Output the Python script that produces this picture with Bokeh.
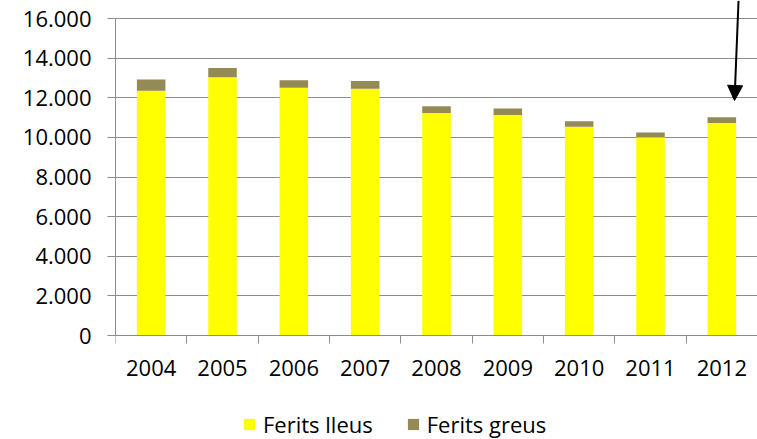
from bokeh.plotting import figure
from bokeh.models import ColumnDataSource, FixedTicker, Range1d, Arrow, NormalHead
from bokeh.embed import file_html
from bokeh.resources import INLINE

# ---- data ----
years = ["2004", "2005", "2006", "2007", "2008", "2009", "2010", "2011", "2012"]
ferits_lleus = [12350, 13030, 12500, 12450, 11230, 11130, 10540, 10010, 10720]
ferits_greus = [575, 470, 390, 390, 340, 325, 270, 240, 290]
series_names = ["Ferits lleus", "Ferits greus"]
y_ticks = [0, 2000, 4000, 6000, 8000, 10000, 12000, 14000, 16000]
y_tick_labels = ["0", "2.000", "4.000", "6.000", "8.000", "10.000", "12.000", "14.000", "16.000"]

# arrow annotation (data coordinates)
arrow_x_start, arrow_y_start = 8.234, 16900
arrow_x_end, arrow_y_end = 8.178, 11860

YELLOW = "#FFFF00"
OLIVE = "#948A54"
GREY = "#8C8C8C"
FONT = "Open Sans"

idx = list(range(len(years)))
src = ColumnDataSource(dict(x=idx, lleus=ferits_lleus, greus=ferits_greus))

# the frame spans the whole canvas to the right of the y axis; the x axis is
# pinned at y = 0 and the legend sits inside the frame, below the axis
p = figure(width=757, height=439, output_backend="svg", toolbar_location=None,
           x_range=Range1d(-0.5, 8.5), y_range=Range1d(-5249, 16909),
           min_border_left=115, min_border_right=0, min_border_top=0, min_border_bottom=0)
p.outline_line_color = None
p.background_fill_color = "white"
p.border_fill_color = "white"

p.vbar_stack(["lleus", "greus"], x="x", width=0.4, color=[YELLOW, OLIVE],
             line_color=None, source=src, legend_label=series_names)

# x axis: labels at centers, ticks at category boundaries
xa = p.xaxis[0]
xa.fixed_location = 0
xa.ticker = FixedTicker(ticks=idx, minor_ticks=[i - 0.5 for i in range(len(years) + 1)])
xa.major_label_overrides = {i: y for i, y in zip(idx, years)}
xa.major_tick_out = 0
xa.major_tick_in = 0
xa.minor_tick_out = 8
xa.minor_tick_in = 0
xa.minor_tick_line_color = GREY
xa.axis_line_color = GREY
xa.axis_line_width = 1
xa.major_label_standoff = 16
xa.major_label_text_font = FONT
xa.major_label_text_font_size = "22px"
xa.major_label_text_color = "black"

ya = p.yaxis[0]
ya.bounds = (0, 16000)
ya.ticker = FixedTicker(ticks=y_ticks)
ya.major_label_overrides = {t: l for t, l in zip(y_ticks, y_tick_labels)}
ya.major_tick_out = 8
ya.major_tick_in = 0
ya.minor_tick_line_color = None
ya.major_tick_line_color = GREY
ya.axis_line_color = GREY
ya.major_label_standoff = 16
ya.major_label_text_font = FONT
ya.major_label_text_font_size = "22px"
ya.major_label_text_color = "black"

p.xgrid.visible = False
p.ygrid.ticker = FixedTicker(ticks=y_ticks)
p.ygrid.grid_line_color = GREY
p.ygrid.grid_line_width = 1

lg = p.legend[0]
lg.orientation = "horizontal"
lg.location = (127, 0)
lg.border_line_color = None
lg.background_fill_alpha = 0
lg.padding = 0
lg.margin = 0
lg.spacing = 33
lg.glyph_width = 14
lg.glyph_height = 14
lg.label_standoff = 7
lg.label_text_font = FONT
lg.label_text_font_size = "22px"
lg.label_text_color = "black"

p.add_layout(Arrow(end=NormalHead(size=15, fill_color="black", line_color="black", line_width=1),
                   x_start=arrow_x_start, y_start=arrow_y_start,
                   x_end=arrow_x_end, y_end=arrow_y_end,
                   line_width=2, line_color="black"))

open("out.html", "w").write(file_html(p, INLINE))
